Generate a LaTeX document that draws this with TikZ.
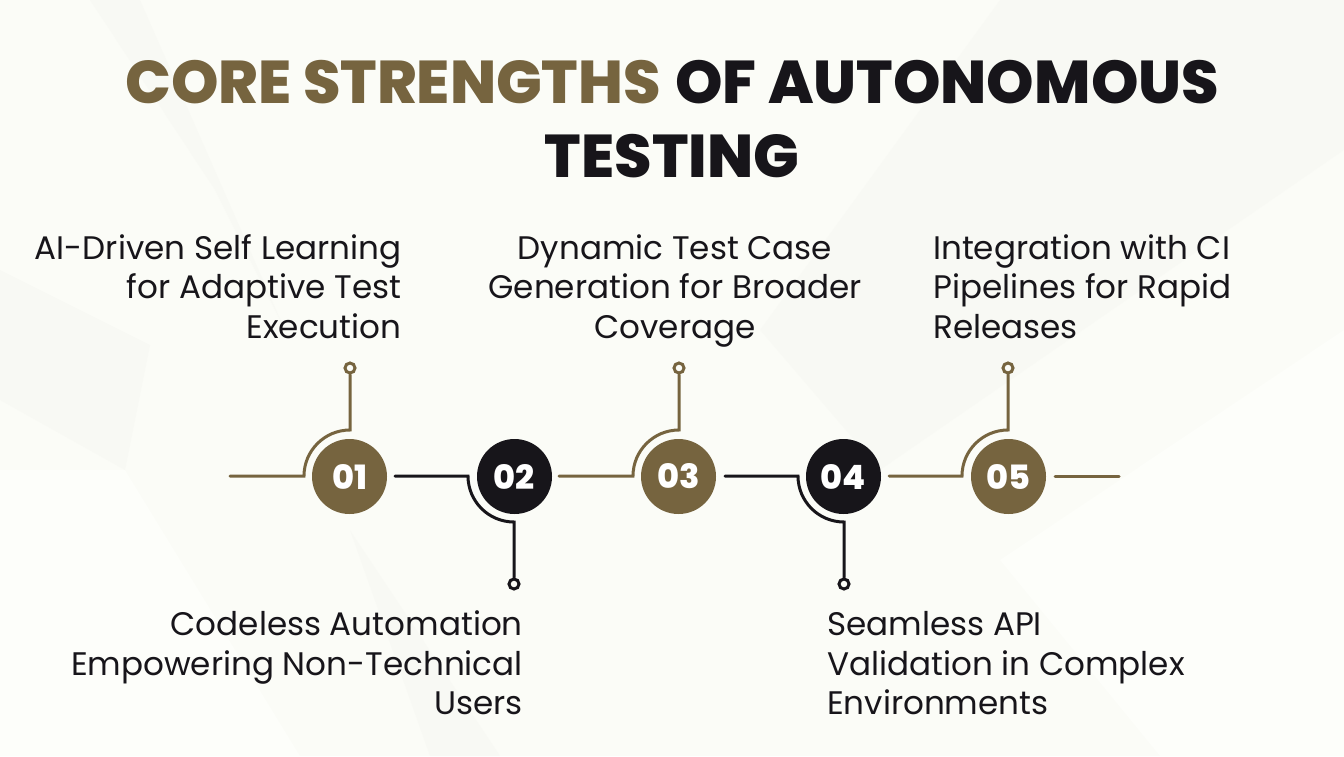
\documentclass[tikz,border=0pt]{standalone}
\usepackage{fontspec}
\setmainfont{Poppins}
\newfontfamily\titlefont{Poppins ExtraBold}
\newfontfamily\numfont{Poppins ExtraBold}
\definecolor{bgc}{HTML}{FBFCF7}
\definecolor{gold}{HTML}{76643F}
\definecolor{ink}{HTML}{17151A}
\definecolor{facet}{HTML}{F6F7F2}
\definecolor{lite}{HTML}{FDFEFA}
\tikzset{
  num/.style={circle,minimum size=75pt,inner sep=0pt,text=white,font=\fontsize{33.5}{33.5}\numfont},
  dotend/.style={circle,draw,fill=bgc,line width=3pt,minimum size=10pt,inner sep=0pt},
  conn/.style={line width=3pt,line cap=round},
  label/.style={inner sep=0pt,text=ink,font=\fontsize{32.6}{39.4}\selectfont},
  ttl/.style={inner sep=0pt,font=\fontsize{60.4}{72}\titlefont},
}
\begin{document}
\begin{tikzpicture}[x=1pt,y=-1pt]
\useasboundingbox (0,0) rectangle (1344,756);
\fill[bgc] (0,0) rectangle (1344,756);
% faint background facets
\fill[facet,opacity=.55] (0,270) -- (150,345) -- (125,470) -- (0,400) -- cycle;
\fill[lite] (0,470) -- (125,470) -- (300,756) -- (0,756) -- cycle;
\fill[facet,opacity=.5] (90,0) -- (140,0) -- (285,330) -- (215,190) -- cycle;
\fill[facet,opacity=.45] (760,330) -- (1000,0) -- (1344,0) -- (1344,150) -- (880,470) -- cycle;
\fill[lite] (1000,560) -- (1344,330) -- (1344,756) -- (1160,756) -- cycle;
\fill[facet,opacity=.5] (350,530) -- (500,756) -- (430,756) -- cycle;
% title
\node[ttl,text=gold,anchor=base east] (t1) at (661,103) {CORE STRENGTHS};
\node[ttl,text=ink,anchor=base west] (t2) at (675,103) {OF AUTONOMOUS};
\node[ttl,text=ink,anchor=base] (t3) at (672,177) {TESTING};
% numbered circles
\node[num,fill=gold] (n1) at (349.5,476.5) {01};
\node[num,fill=ink]  (n2) at (514.5,476.5) {02};
\node[num,fill=gold] (n3) at (678.5,476.5) {03};
\node[num,fill=ink]  (n4) at (843.5,476.5) {04};
\node[num,fill=gold] (n5) at (1008.5,476.5) {05};
% end dots
\node[dotend,draw=gold] (d1) at (350,368) {};
\node[dotend,draw=ink]  (d2) at (514,584) {};
\node[dotend,draw=gold] (d3) at (679,368) {};
\node[dotend,draw=ink]  (d4) at (844,584) {};
\node[dotend,draw=gold] (d5) at (1008,368) {};
% free ends
\coordinate (a0) at (230,476);
\coordinate (a1) at (395,476);
\coordinate (a2) at (559,476);
\coordinate (a3) at (725,476);
\coordinate (a4) at (889,476);
\coordinate (a5) at (1055,476);
\coordinate (a6) at (1119,476);
% connectors
\draw[conn,draw=gold] (a0) -- ++(74,0) arc[start angle=180,end angle=270,radius=46] -- (d1.south);
\draw[conn,draw=ink] (a1) -- ++(73,0) arc[start angle=180,end angle=90,radius=46] -- (d2.north);
\draw[conn,draw=gold] (a2) -- ++(74,0) arc[start angle=180,end angle=270,radius=46] -- (d3.south);
\draw[conn,draw=ink] (a3) -- ++(73,0) arc[start angle=180,end angle=90,radius=46] -- (d4.north);
\draw[conn,draw=gold] (a4) -- ++(73,0) arc[start angle=180,end angle=270,radius=46] -- (d5.south);
\draw[conn,draw=gold] (a5) -- (a6);
% labels
\node[label,align=right,anchor=base east] (l1) at (401.5,338) {AI-Driven Self Learning\\for Adaptive Test\\Execution};
\node[label,align=center,anchor=base] (l3) at (675,338) {Dynamic Test Case\\Generation for Broader\\Coverage};
\node[label,align=left,anchor=base west] (l5) at (933,338) {Integration with CI\\Pipelines for Rapid\\Releases};
\node[label,align=right,anchor=base east] (l2) at (523,714.5) {Codeless Automation\\Empowering Non-Technical\\Users};
\node[label,align=left,anchor=base west] (l4) at (827,714.5) {Seamless API\\Validation in Complex\\Environments};
\end{tikzpicture}
\end{document}
